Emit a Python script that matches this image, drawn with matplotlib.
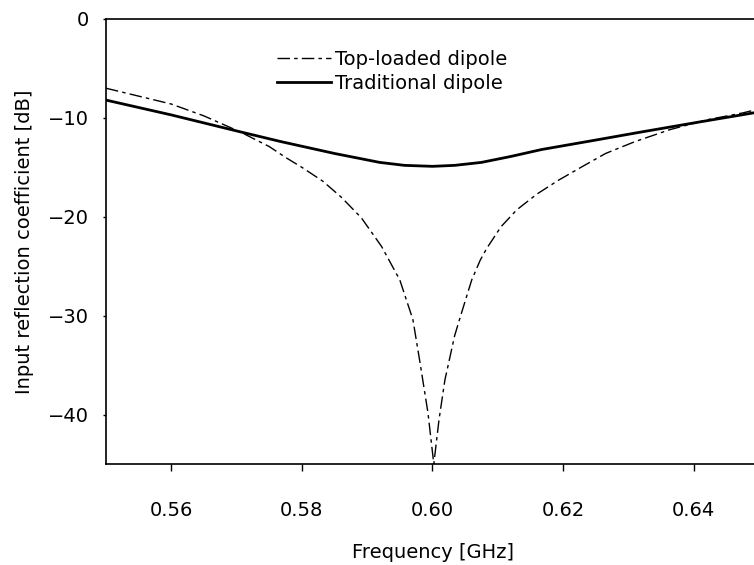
import numpy as np
import matplotlib.pyplot as plt

# values
freq_top = [0.5500, 0.5550, 0.5600, 0.5650, 0.5705, 0.5750, 0.5775, 0.5800, 0.5832, 0.5860,
            0.5891, 0.5922, 0.5950, 0.5970, 0.5981, 0.5993, 0.6002, 0.6010, 0.6019, 0.6034,
            0.6045, 0.6060, 0.6073, 0.6083, 0.6105, 0.6129, 0.6160, 0.6193, 0.6230, 0.6265,
            0.6310, 0.6363, 0.6420, 0.6475, 0.6500]
s11_top = [-7.0, -7.8, -8.6, -9.8, -11.4, -12.9, -14.0, -15.0, -16.4, -18.0,
           -20.1, -23.0, -26.4, -30.4, -34.8, -39.8, -45.0, -40.5, -36.5, -32.0,
           -29.6, -26.4, -24.4, -23.2, -21.0, -19.3, -17.7, -16.3, -14.9, -13.6,
           -12.4, -11.2, -10.2, -9.5, -9.1]

freq_trad = [0.5500, 0.5600, 0.5705, 0.5768, 0.5850, 0.5919, 0.5957, 0.6000, 0.6034, 0.6075,
             0.6120, 0.6167, 0.6245, 0.6322, 0.6410, 0.6500]
s11_trad = [-8.2, -9.7, -11.4, -12.4, -13.6, -14.5, -14.8, -14.9, -14.8, -14.5,
            -13.9, -13.2, -12.3, -11.4, -10.4, -9.4]

xticks = [0.56, 0.58, 0.60, 0.62, 0.64]
yticks = [0, -10, -20, -30, -40]

plt.rcParams['font.family'] = 'DejaVu Sans'

fig = plt.figure(figsize=(7.54, 5.65), dpi=100)
ax = fig.add_axes([106 / 754, 1 - 464 / 565, 653 / 754, 445 / 565])

ax.plot(freq_top, s11_top, color='black', lw=1.0, dashes=(9, 3, 2.5, 3),
        label='Top-loaded dipole')
ax.plot(freq_trad, s11_trad, color='black', lw=2.0, label='Traditional dipole')

ax.set_xlim(0.55, 0.65)
ax.set_ylim(-45, 0)
ax.set_xticks(xticks)
ax.set_xticklabels([f'{t:.2f}' for t in xticks])
ax.set_yticks(yticks)
ax.tick_params(axis='x', direction='out', length=5, width=1, pad=22, labelsize=14)
ax.tick_params(axis='y', direction='out', length=2, width=1, pad=10, labelsize=14)
ax.spines['right'].set_visible(False)
for s in ['left', 'top', 'bottom']:
    ax.spines[s].set_linewidth(1.2)

ax.set_xlabel('Frequency [GHz]', fontsize=14, labelpad=16)
ax.set_ylabel('Input reflection coefficient [dB]', fontsize=14, labelpad=10)

ax.legend(loc='upper left', bbox_to_anchor=(0.235, 0.97), frameon=False, fontsize=14,
          handlelength=2.8, handletextpad=0.2, labelspacing=0.25)

fig.savefig('out.png', dpi=100)
